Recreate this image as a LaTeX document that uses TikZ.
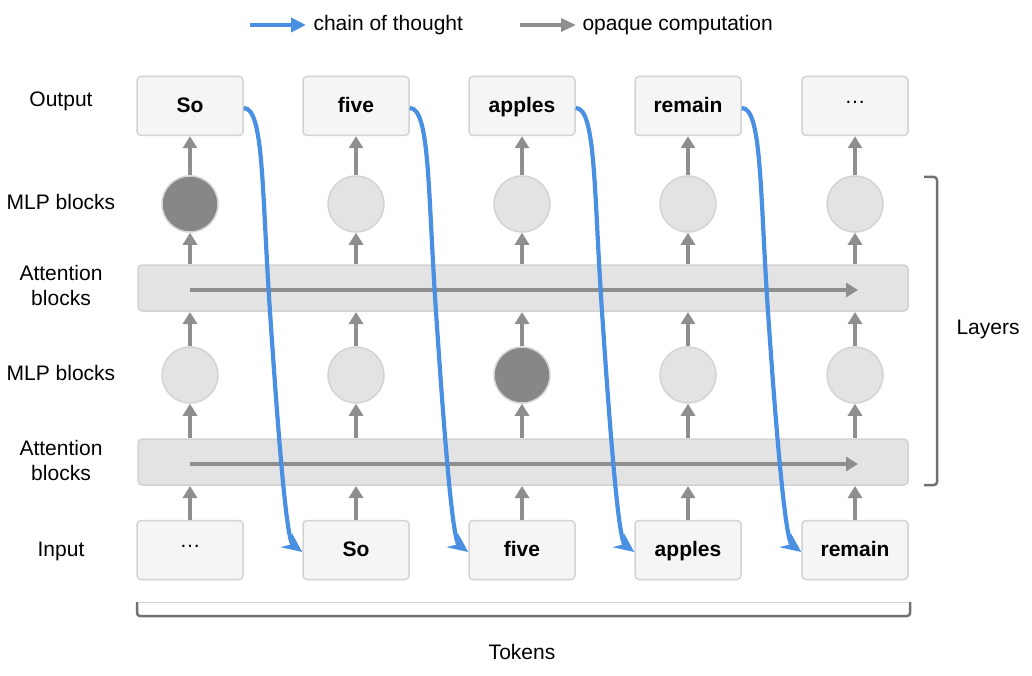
\documentclass[tikz,border=0pt]{standalone}
\usepackage{fontspec}
\setmainfont{Liberation Sans}
\usetikzlibrary{arrows.meta}
\definecolor{bluec}{HTML}{4A90E2}
\definecolor{grayc}{HTML}{8E8E8E}
\definecolor{boxf}{HTML}{F5F5F5}
\definecolor{boxd}{HTML}{D3D3D3}
\definecolor{barf}{HTML}{E3E3E3}
\begin{document}
\begin{tikzpicture}[x=1pt,y=-1pt,
  tok/.style={draw=boxd,line width=1.5pt,fill=boxf,rounded corners=4pt,minimum width=106pt,minimum height=59pt,text height=15pt,text depth=2pt,font=\fontsize{21}{24}\selectfont\bfseries},
  mlp/.style={circle,draw=boxd,line width=1.5pt,fill=barf,minimum size=56pt,inner sep=0pt},
  mlpd/.style={circle,draw=boxd,line width=1.5pt,fill=grayc!95!black,minimum size=56pt,inner sep=0pt},
  bar/.style={draw=boxd,line width=1.5pt,fill=barf,rounded corners=4pt,minimum width=770pt,minimum height=46pt},
  lab/.style={font=\fontsize{21}{25}\selectfont,align=center},
  up/.style={draw=grayc,line width=3.2pt,-{Triangle[length=12pt,width=14pt]}},
  chain/.style={draw=bluec,line width=4.2pt,-{Stealth[length=20pt,width=18pt,inset=7pt]}},
  ]
\useasboundingbox (0,0) rectangle (1032,676);
% legend
\coordinate (l1a) at (250,25); \coordinate (l1b) at (306,25);
\draw[draw=bluec,line width=4pt,-{Triangle[length=15pt,width=14pt]}] (l1a) -- (l1b);
\node[lab,anchor=west] (lt1) at (310,25) {chain of thought};
\coordinate (l2a) at (520,25); \coordinate (l2b) at (576,25);
\draw[up,-{Triangle[length=15pt,width=13pt]}] (l2a) -- (l2b);
\node[lab,anchor=west] (lt2) at (579,25) {opaque computation};
% left labels
\node[lab] (L1) at (61,101) {Output};
\node[lab] (L2) at (61,202) {MLP blocks};
\node[lab] (L3) at (61,285) {Attention\\blocks};
\node[lab] (L4) at (61,373) {MLP blocks};
\node[lab] (L5) at (61,460) {Attention\\blocks};
\node[lab] (L6) at (61,551) {Input};
% bars
\node[bar] (A2) at (523,288) {};
\node[bar] (A1) at (523,462) {};
\coordinate (h2a) at (190,290); \coordinate (h2b) at (858,290);
\coordinate (h1a) at (190,464); \coordinate (h1b) at (858,464);
\draw[up] (h2a) -- (h2b);
\draw[up] (h1a) -- (h1b);
% columns
\foreach \i/\x/\o/\inp/\mt/\mb in {1/190/So/{}/mlpd/mlp,2/356/five/So/mlp/mlp,3/522/apples/five/mlp/mlpd,4/688/remain/apples/mlp/mlp,5/855/{}/remain/mlp/mlp}{
  \node[tok] (o\i) at (\x,106) {\o};
  \node[tok] (in\i) at (\x,550) {\inp};
  \node[\mt] (mt\i) at (\x,204) {};
  \node[\mb] (mb\i) at (\x,375) {};
  \coordinate (a2t\i) at (\x,264); \coordinate (a2b\i) at (\x,312);
  \coordinate (a1t\i) at (\x,438); \coordinate (a1b\i) at (\x,486);
  \draw[up] (mt\i) -- (o\i);
  \draw[up] (a2t\i) -- (mt\i);
  \draw[up] (mb\i) -- (a2b\i);
  \draw[up] (a1t\i) -- (mb\i);
  \draw[up] (in\i) -- (a1b\i);
}
\node[font=\fontsize{21}{24}\selectfont] (d1) at ([yshift=4pt]o5.center) {\ldots};
\node[font=\fontsize{21}{24}\selectfont] (d2) at ([yshift=4pt]in1.center) {\ldots};
% chain arrows
\foreach \a/\b in {1/2,2/3,3/4,4/5}{
  \draw[chain] ([yshift=-2pt]o\a.east) .. controls +(20,0) and +(-8,-120) .. ++(26,200)
     .. controls +(8,120) and +(-16,-12) .. ([yshift=-2pt]in\b.west);
}
% brackets
\coordinate (b1) at (924,177); \coordinate (b2) at (937,177); \coordinate (b3) at (937,485); \coordinate (b4) at (924,485);
\draw[grayc!80!black,line width=2.5pt,rounded corners=3pt] (b1) -- (b2) -- (b3) -- (b4);
\node[lab] (Ly) at (988,329) {Layers};
\coordinate (c1) at (137,602); \coordinate (c2) at (137,616); \coordinate (c3) at (910,616); \coordinate (c4) at (910,602);
\draw[grayc!80!black,line width=2.5pt,rounded corners=3pt] (c1) -- (c2) -- (c3) -- (c4);
\draw[boxd,line width=1pt] (139,602) -- (908,602);
\node[lab] (Tk) at (522,652) {Tokens};
\end{tikzpicture}
\end{document}
